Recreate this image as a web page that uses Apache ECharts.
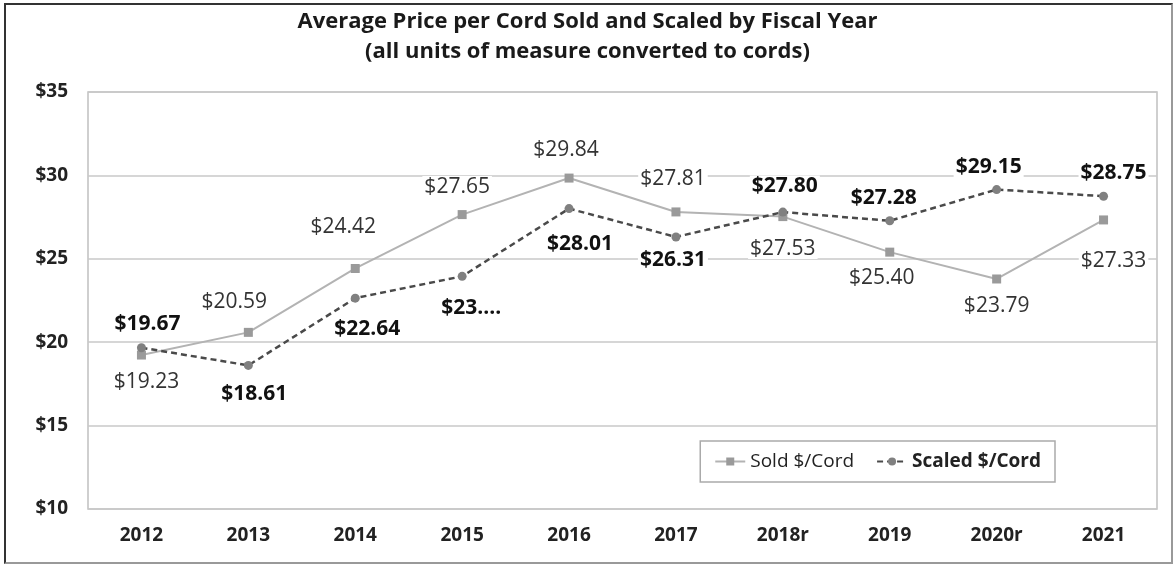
<!DOCTYPE html>
<html>
<head>
<meta charset="utf-8">
<script src="https://cdn.jsdelivr.net/npm/echarts@6/dist/echarts.min.js"></script>
<style>
  html, body { margin: 0; padding: 0; background: #fff; }
  .frame {
    position: absolute; left: 4px; top: 3px;
    width: 1165px; height: 557px;
    border: 2px solid #333; border-right-color: #999; border-bottom-color: #999;
  }
  #chart { position: absolute; left: 0; top: 0; width: 1175px; height: 565px; }
</style>
</head>
<body>
<div class="frame"></div>
<div id="chart"></div>
<script>
const years = ['2012', '2013', '2014', '2015', '2016', '2017', '2018r', '2019', '2020r', '2021']
const soldPrice = [19.23, 20.59, 24.42, 27.65, 29.84, 27.81, 27.53, 25.40, 23.79, 27.33]
const scaledPrice = [19.67, 18.61, 22.64, 23.95, 28.01, 26.31, 27.80, 27.28, 29.15, 28.75]
// label text as printed (2015 scaled label is truncated in the original)
const scaledText = ['$19.67', '$18.61', '$22.64', '$23....', '$28.01', '$26.31', '$27.80', '$27.28', '$29.15', '$28.75']

// where each value label sits relative to its marker (px)
const soldLabelOffset = [[5, 27], [-14, -30], [-12, -41], [-5, -28], [-3, -28], [-3, -33], [0, 32], [-8, 26], [0, 27], [10, 41]]
const scaledLabelOffset = [[6, -24], [6, 29], [12, 31], [9, 32], [11, 35], [-3, 23], [2, -26], [-6, -23], [-8, -23], [10, -23]]

const FONT = 'Open Sans, Lato, sans-serif'

const chart = echarts.init(document.getElementById('chart'), null, { renderer: 'canvas' })

const labelBase = {
  show: true,
  position: 'inside',
  fontFamily: FONT,
  fontSize: 21,
  backgroundColor: '#fff',
  padding: [0, 2],
}

chart.setOption({
  animation: false,
  textStyle: { fontFamily: FONT },
  title: {
    text: 'Average Price per Cord Sold and Scaled by Fiscal Year\n(all units of measure converted to cords)',
    left: 'center',
    top: 2,
    textStyle: { fontSize: 22, fontWeight: 'bold', color: '#1a1a1a', lineHeight: 30, fontFamily: FONT },
  },
  grid: { left: 88, right: 18, top: 92, bottom: 56, show: true, borderColor: '#c0c0c0', borderWidth: 1.5 },
  legend: {
    right: 120,
    bottom: 83,
    orient: 'horizontal',
    itemGap: 22,
    itemWidth: 30,
    itemHeight: 10,
    padding: [11, 14],
    borderColor: '#aaa',
    borderWidth: 1.5,
    backgroundColor: '#fff',
    textStyle: { fontSize: 19, color: '#222', fontFamily: FONT },
    data: [
      { name: 'Sold $/Cord' },
      { name: 'Scaled $/Cord', textStyle: { fontWeight: 'bold' } },
    ],
  },
  xAxis: {
    type: 'category',
    data: years,
    boundaryGap: true,
    axisLine: { show: false },
    axisTick: { show: false },
    axisLabel: { color: '#222', fontWeight: 'bold', fontSize: 19, margin: 17, fontFamily: FONT },
  },
  yAxis: {
    type: 'value',
    min: 10,
    max: 35,
    interval: 5,
    axisLine: { show: false },
    axisTick: { show: false },
    axisLabel: { color: '#222', fontWeight: 'bold', fontSize: 19, margin: 20, formatter: v => '$' + v, fontFamily: FONT },
    splitLine: { lineStyle: { color: '#c8c8c8', width: 1.5 } },
  },
  series: [
    {
      name: 'Sold $/Cord',
      type: 'line',
      data: soldPrice.map((v, i) => ({
        value: v,
        label: { ...labelBase, offset: soldLabelOffset[i], color: '#333', formatter: '$' + v.toFixed(2) },
      })),
      symbol: 'rect',
      symbolSize: 9,
      itemStyle: { color: '#9a9a9a' },
      lineStyle: { color: '#b3b3b3', width: 2 },
      z: 2,
    },
    {
      name: 'Scaled $/Cord',
      type: 'line',
      data: scaledPrice.map((v, i) => ({
        value: v,
        label: { ...labelBase, offset: scaledLabelOffset[i], color: '#111', fontWeight: 'bold', formatter: scaledText[i] },
      })),
      symbol: 'circle',
      symbolSize: 9,
      itemStyle: { color: '#808080' },
      lineStyle: { color: '#4a4a4a', width: 2.5, type: [6, 4] },
      z: 3,
    },
  ],
})
</script>
</body>
</html>
